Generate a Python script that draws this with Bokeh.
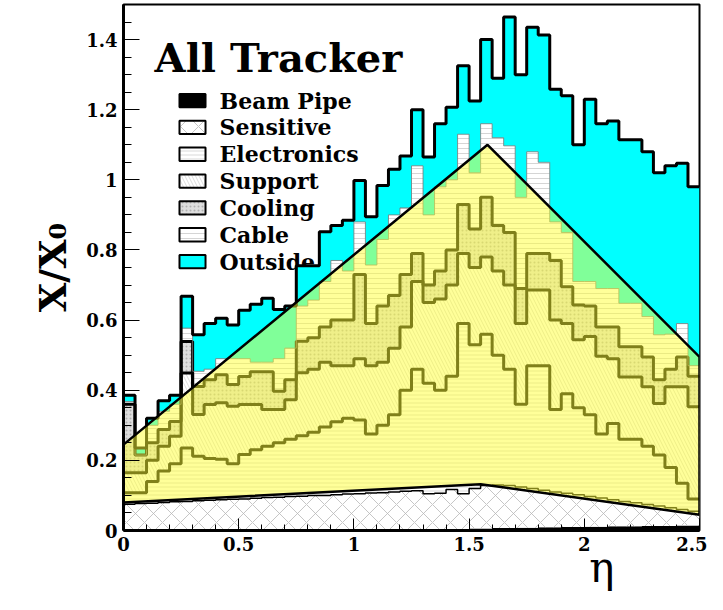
from bokeh.plotting import figure
from bokeh.models import FixedTicker, Range1d, Title
from bokeh.core.properties import value
from bokeh.embed import file_html
from bokeh.resources import INLINE

# ---------------- data ----------------
eta_edges = [0.00, 0.05, 0.10, 0.15, 0.20, 0.25, 0.30, 0.35, 0.40, 0.45,
             0.50, 0.55, 0.60, 0.65, 0.70, 0.75, 0.80, 0.85, 0.90, 0.95,
             1.00, 1.05, 1.10, 1.15, 1.20, 1.25, 1.30, 1.35, 1.40, 1.45,
             1.50, 1.55, 1.60, 1.65, 1.70, 1.75, 1.80, 1.85, 1.90, 1.95,
             2.00, 2.05, 2.10, 2.15, 2.20, 2.25, 2.30, 2.35, 2.40, 2.45, 2.50]

# cumulative tops of the stacked contributions (X/X0)
top_beampipe = [0.004, 0.004, 0.004, 0.004, 0.004, 0.004, 0.004, 0.004, 0.004, 0.004,
                0.004, 0.004, 0.004, 0.004, 0.004, 0.004, 0.004, 0.004, 0.004, 0.004,
                0.004, 0.004, 0.004, 0.004, 0.004, 0.004, 0.004, 0.004, 0.004, 0.004,
                0.006, 0.006, 0.007, 0.007, 0.008, 0.008, 0.009, 0.009, 0.010, 0.010,
                0.011, 0.011, 0.012, 0.012, 0.012, 0.013, 0.013, 0.013, 0.014, 0.014]
top_sensitive = [0.075, 0.077, 0.078, 0.080, 0.082, 0.083, 0.085, 0.086, 0.088, 0.089,
                 0.090, 0.092, 0.094, 0.095, 0.097, 0.098, 0.100, 0.100, 0.102, 0.104,
                 0.105, 0.107, 0.108, 0.110, 0.112, 0.113, 0.105, 0.106, 0.117, 0.105,
                 0.120, 0.128, 0.130, 0.128, 0.124, 0.120, 0.115, 0.110, 0.106, 0.102,
                 0.097, 0.093, 0.088, 0.083, 0.079, 0.074, 0.070, 0.065, 0.060, 0.055]
top_electronics = [0.108, 0.108, 0.140, 0.170, 0.190, 0.235, 0.212, 0.205, 0.203, 0.190,
                   0.217, 0.230, 0.240, 0.250, 0.260, 0.270, 0.280, 0.295, 0.310, 0.320,
                   0.315, 0.275, 0.300, 0.330, 0.400, 0.460, 0.420, 0.400, 0.440, 0.590,
                   0.530, 0.560, 0.500, 0.460, 0.360, 0.470, 0.470, 0.345, 0.390, 0.350,
                   0.330, 0.275, 0.305, 0.260, 0.260, 0.240, 0.215, 0.180, 0.135, 0.090]
top_support = [0.165, 0.165, 0.200, 0.240, 0.269, 0.449, 0.331, 0.359, 0.364, 0.354,
               0.359, 0.359, 0.345, 0.345, 0.373, 0.450, 0.460, 0.480, 0.470, 0.470,
               0.490, 0.470, 0.480, 0.520, 0.580, 0.710, 0.650, 0.660, 0.700, 0.790,
               0.750, 0.780, 0.740, 0.700, 0.590, 0.686, 0.686, 0.600, 0.590, 0.544,
               0.553, 0.497, 0.490, 0.438, 0.438, 0.410, 0.362, 0.410, 0.410, 0.353]
top_cooling = [0.360, 0.215, 0.250, 0.288, 0.311, 0.539, 0.411, 0.430, 0.444, 0.416,
               0.439, 0.453, 0.453, 0.397, 0.430, 0.540, 0.550, 0.580, 0.600, 0.600,
               0.730, 0.590, 0.640, 0.670, 0.730, 0.790, 0.700, 0.740, 0.800, 0.930,
               0.860, 0.950, 0.870, 0.850, 0.690, 0.790, 0.790, 0.770, 0.695, 0.643,
               0.640, 0.580, 0.580, 0.524, 0.524, 0.495, 0.430, 0.460, 0.495, 0.440]
top_cable = [0.368, 0.215, 0.300, 0.340, 0.360, 0.577, 0.454, 0.460, 0.490, 0.490,
             0.490, 0.480, 0.480, 0.490, 0.520, 0.640, 0.657, 0.710, 0.770, 0.740,
             0.880, 0.757, 0.830, 0.900, 0.920, 1.040, 0.900, 0.980, 1.000, 1.130,
             1.020, 1.160, 1.120, 1.097, 0.950, 1.080, 1.050, 0.880, 0.850, 0.710,
             0.710, 0.690, 0.690, 0.648, 0.648, 0.610, 0.558, 0.560, 0.590, 0.470]
top_outside = [0.386, 0.235, 0.320, 0.370, 0.386, 0.668, 0.558, 0.590, 0.605, 0.586,
               0.628, 0.645, 0.662, 0.630, 0.640, 0.755, 0.755, 0.852, 0.870, 0.885,
               0.998, 0.895, 0.984, 1.030, 1.068, 1.200, 1.065, 1.160, 1.207, 1.325,
               1.225, 1.400, 1.290, 1.464, 1.300, 1.435, 1.413, 1.258, 1.240, 1.100,
               1.230, 1.160, 1.168, 1.114, 1.114, 1.080, 1.020, 1.040, 1.047, 0.980]

layer_names = ["Beam Pipe", "Sensitive", "Electronics", "Support",
               "Cooling", "Cable", "Outside"]

# simplified material model (yellow polygon)
model_eta = [0.0, 0.0, 1.58, 2.5, 2.5, 1.55]
model_x0 = [0.080, 0.245, 1.100, 0.495, 0.045, 0.132]

x_ticks = [0, 0.5, 1, 1.5, 2, 2.5]
x_tick_labels = ["0", "0.5", "1", "1.5", "2", "2.5"]
y_ticks = [0, 0.2, 0.4, 0.6, 0.8, 1.0, 1.2, 1.4]
y_tick_labels = ["0", "0.2", "0.4", "0.6", "0.8", "1", "1.2", "1.4"]

# ---------------- styles ----------------
SERIF = "DejaVu Serif"
styles = [
    dict(fill_color="black"),
    dict(fill_color="white", hatch_pattern="x", hatch_color="#b8b8b8",
         hatch_scale=18, hatch_weight=0.8),
    dict(fill_color="white", hatch_pattern="-", hatch_color="#c0c0c0",
         hatch_scale=4, hatch_weight=0.6),
    dict(fill_color="white", hatch_pattern="\\", hatch_color="#c4c4c4",
         hatch_scale=7, hatch_weight=0.6),
    dict(fill_color="#dedede", hatch_pattern=".", hatch_color="#b0b0b0",
         hatch_scale=4, hatch_weight=0.6),
    dict(fill_color="white", hatch_pattern="-", hatch_color="#b8b8b8",
         hatch_scale=5, hatch_weight=0.6),
    dict(fill_color="#00ffff"),
]
line_styles = [None,
               dict(line_color="black", line_width=1.5),
               dict(line_color="black", line_width=3),
               dict(line_color="black", line_width=3),
               dict(line_color="black", line_width=3),
               dict(line_color="#777777", line_width=0.8),
               dict(line_color="black", line_width=3)]

p = figure(width=707, height=594, x_range=Range1d(0, 2.5), y_range=Range1d(0, 1.5),
           output_backend="svg", toolbar_location=None,
           min_border_left=123, min_border_right=8, min_border_top=4, min_border_bottom=64)
p.xgrid.visible = False
p.ygrid.visible = False
p.outline_line_color = "black"
p.outline_line_width = 2
p.background_fill_color = "white"

# ---------------- legend (drawn first, beneath the histograms) ----------------
leg_top, leg_step, leg_h = 1.226, 0.0765, 0.038
leg_x0, leg_x1, leg_tx = 0.243, 0.356, 0.417
for i, name in enumerate(layer_names):
    yc = leg_top - i * leg_step
    p.quad(left=[leg_x0], right=[leg_x1], bottom=[yc - leg_h / 2], top=[yc + leg_h / 2],
           line_color="black", line_width=2, **styles[i])
    p.text(x=[leg_tx], y=[yc], text=[name], text_font=value(SERIF),
           text_font_style="bold", text_font_size="22px", text_baseline="middle",
           text_align="left", text_color="black")

p.text(x=[0.135], y=[1.349], text=["All Tracker"], text_font=value(SERIF),
       text_font_style="bold", text_font_size="40px", text_baseline="alphabetic",
       text_align="left", text_color="black")

# ---------------- stacked histograms ----------------
layer_tops = [top_beampipe, top_sensitive, top_electronics, top_support,
              top_cooling, top_cable, top_outside]
zeros = [0.0] * len(top_beampipe)
for i, tops in enumerate(layer_tops):
    bottoms = zeros if i == 0 else layer_tops[i - 1]
    p.varea_step(x=eta_edges, y1=list(bottoms) + [bottoms[-1]], y2=list(tops) + [tops[-1]],
                 step_mode="after", **styles[i])

for i, tops in enumerate(layer_tops):
    if line_styles[i] is None:
        continue
    p.step(x=eta_edges, y=list(tops) + [tops[-1]], mode="after", **line_styles[i])

# ---------------- simplified model overlay ----------------
p.patch(model_eta, model_x0, fill_color="#ffff33", fill_alpha=0.5,
        line_color="black", line_width=2.5)

# ---------------- axes ----------------
p.xaxis.ticker = FixedTicker(ticks=x_ticks, minor_ticks=[i / 10 for i in range(26)])
p.xaxis.major_label_overrides = {t: l for t, l in zip(x_ticks, x_tick_labels)}
p.yaxis.ticker = FixedTicker(ticks=y_ticks, minor_ticks=[i / 20 for i in range(31)])
p.yaxis.major_label_overrides = {t: l for t, l in zip(y_ticks, y_tick_labels)}

for ax in (p.xaxis[0], p.yaxis[0]):
    ax.axis_line_width = 3
    ax.axis_line_color = "black"
    ax.major_tick_out = 0
    ax.minor_tick_out = 0
    ax.major_tick_line_color = "black"
    ax.minor_tick_line_color = "black"
    ax.major_label_text_font = SERIF
    ax.major_label_text_font_style = "bold"
    ax.major_label_text_font_size = "18px"
    ax.major_label_text_color = "black"

p.xaxis.major_tick_in = 12
p.xaxis.minor_tick_in = 6
p.yaxis.major_tick_in = 16
p.yaxis.minor_tick_in = 8
p.xaxis.major_label_standoff = 6
p.yaxis.major_label_standoff = 6

p.yaxis.axis_label = "X/X\u2080"
p.yaxis.axis_label_text_font = SERIF
p.yaxis.axis_label_text_font_style = "bold"
p.yaxis.axis_label_text_font_size = "38px"
p.yaxis.axis_label_standoff = 8
p.yaxis.axis_label_text_color = "black"

eta_title = Title(text="\u03b7", align="right", offset=85, standoff=-26,
                  text_font=SERIF, text_font_style="normal", text_font_size="42px",
                  text_color="black")
p.add_layout(eta_title, "below")

open("out.html", "w").write(file_html(p, INLINE))
